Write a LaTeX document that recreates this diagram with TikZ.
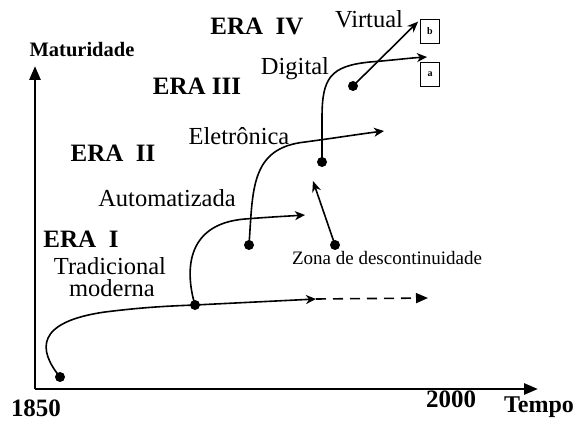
\documentclass[tikz,border=0pt]{standalone}
\usepackage{fontspec}
\setmainfont{Liberation Serif}
\usetikzlibrary{arrows.meta}
\tikzset{
  txt/.style={anchor=base,inner sep=0pt,font=\fontsize{24.5}{26}\selectfont},
  era/.style={anchor=base,inner sep=0pt,font=\fontsize{25}{27}\selectfont\bfseries},
  axlab/.style={anchor=base,inner sep=0pt,font=\fontsize{25}{27}\selectfont\bfseries},
  dot/.style={circle,fill,inner sep=0pt,minimum size=10pt},
  curve/.style={line width=1.6pt,-{Stealth[length=10pt,width=9pt,inset=3pt]}},
  tag/.style={draw,line width=0.8pt,minimum width=19pt,minimum height=24pt,
    inner sep=0pt,font=\fontsize{10}{10}\selectfont\bfseries}
}
\begin{document}
\begin{tikzpicture}[x=1pt,y=-1pt]
  \useasboundingbox (0,0) rectangle (574,425);
  % eixos
  \coordinate (O) at (35,389);
  \coordinate (ytop) at (35,66);
  \coordinate (xend) at (538,389);
  \draw[line width=2.6pt,-{Triangle[length=14pt,width=11pt]}] (O) -- (ytop);
  \draw[line width=2.6pt,-{Triangle[length=14pt,width=11pt]}] (O) -- (xend);
  \node[axlab,font=\fontsize{20.5}{22}\selectfont\bfseries] (mat) at (82,57) {Maturidade};
  \node[axlab] (ano1) at (36,417) {1850};
  \node[axlab] (ano2) at (451,407) {2000};
  \node[axlab,font=\fontsize{24}{26}\selectfont\bfseries] (tempo) at (539,413) {Tempo};

  % pontos
  \node[dot] (d1) at (60,377) {};
  \node[dot] (d2) at (195,305) {};
  \node[dot] (d3) at (249,245) {};
  \node[dot] (d4) at (322,162) {};
  \node[dot] (d5) at (353,86) {};
  \node[dot] (d6) at (335,245) {};
  \node[tag] (b) at (430,31) {b};
  \node[tag] (a) at (430,74) {a};
  \coordinate (e1) at (316,299);
  \coordinate (e2) at (428,298);
  \coordinate (a2) at (305,215);
  \coordinate (a3) at (384,131);
  \coordinate (a4) at (427,57);
  \coordinate (z) at (313,181);

  % curvas das eras
  \draw[line width=1.6pt] (d1.center) .. controls (38,350) and (35,322) .. (105,312)
    .. controls (145,307) and (170,306) .. (d2.center);
  \draw[curve] (d2.center) -- (e1);
  \draw[line width=1.6pt,dash pattern=on 10pt off 7pt,
    -{Triangle[length=12pt,width=10pt]}] (e1) -- (e2);
  \draw[curve] (d2.center) .. controls (186,275) and (183,224) .. (245,219)
    .. controls (270,217) and (290,216) .. (a2);
  \draw[curve] (d3.center) .. controls (253,190) and (250,148) .. (305,142)
    .. controls (335,138) and (360,134) .. (a3);
  \draw[curve] (d4.center) -- (322,118) .. controls (322,78) and (330,66) .. (370,62)
    .. controls (395,60) and (410,58) .. (a4);
  \draw[line width=1.6pt,-{Stealth[length=11pt,width=9pt]}] (d5.center)
    -- ([shift={(-2,3)}]b.north west);
  \draw[line width=1.6pt,-{Stealth[length=11pt,width=9pt]}] (d6.center) -- (z);

  % textos
  \node[era] (era4) at (257,35) {ERA\ \ IV};
  \node[txt] (virt) at (369,28) {Virtual};
  \node[txt] (dig) at (295,75) {Digital};
  \node[era] (era3) at (197,95) {ERA III};
  \node[txt] (elet) at (239,145) {Eletrônica};
  \node[era] (era2) at (113,162) {ERA\ \ II};
  \node[txt] (auto) at (167,207) {Automatizada};
  \node[era] (era1) at (81,248) {ERA\ \ I};
  \node[txt] (trad) at (110,275) {Tradicional};
  \node[txt] (mod) at (112,297) {moderna};
  \node[txt,font=\fontsize{19}{21}\selectfont] (zona) at (387,265) {Zona de descontinuidade};
\end{tikzpicture}
\end{document}
